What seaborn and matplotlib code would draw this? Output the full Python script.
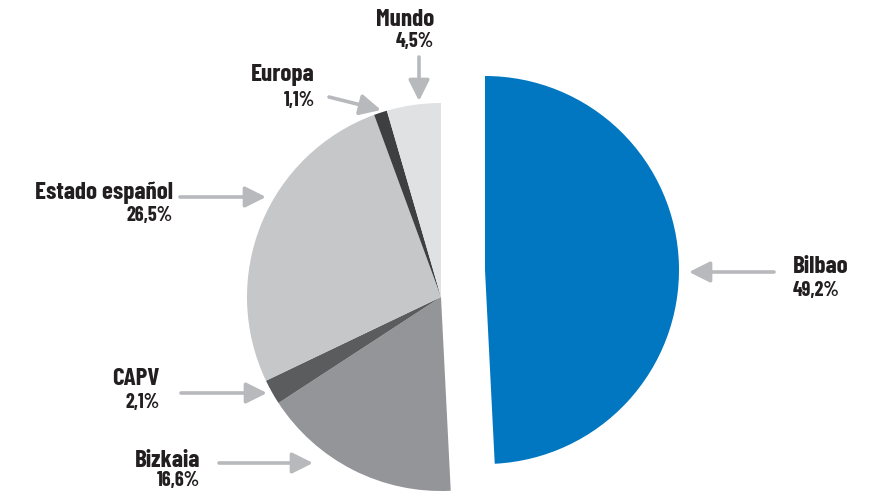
import matplotlib
matplotlib.use("Agg")
import matplotlib.pyplot as plt
import seaborn as sns

sns.set_theme(style="white")
plt.rcParams['font.family'] = ['Barlow Condensed', 'DejaVu Sans']

# data
regions = ['Bilbao', 'Bizkaia', 'CAPV', 'Estado español', 'Europa', 'Mundo']
shares = [49.2, 16.6, 2.1, 26.5, 1.1, 4.5]
pct_labels = ['49,2%', '16,6%', '2,1%', '26,5%', '1,1%', '4,5%']
colors = ['#0077c0', '#939598', '#5b5c5e', '#c6c7c9', '#3e3f41', '#e0e1e3']

W, H = 884, 491
fig = plt.figure(figsize=(W / 100, H / 100), dpi=100)
ax = fig.add_axes([0, 0, 1, 1])

# work in pixel units, y measured from the bottom
def py(y):
    return H - y

wedges, _ = ax.pie(shares, colors=colors, startangle=90, counterclock=False,
                   radius=194, center=(441, py(297)),
                   wedgeprops=dict(linewidth=0))
# Bilbao slice pulled out to the upper right
wedges[0].set_center((485, py(270)))

ax.set_xlim(0, W)
ax.set_ylim(0, H)
ax.set_aspect('auto')
ax.axis('off')

txt_col = '#231f20'
arrow_col = '#b8b9bc'

# label layout: (name x, name y, pct y, align, arrow start, arrow end)
layout = {
    'Bilbao':         (793, 267, 291, 'left',  (774, 272), (689, 272)),
    'Bizkaia':        (200, 461, 480, 'right', (219, 463), (313, 463)),
    'CAPV':           (160, 379, 403, 'right', (181, 393), (267, 393)),
    'Estado español': (173, 193, 215, 'right', (180, 197), (266, 197)),
    'Europa':         (315, 75, 100, 'right',  (329, 97), (381, 110)),
    'Mundo':          (434, 20, 41, 'right',   (419, 57), (419, 101)),
}

for name, pct in zip(regions, pct_labels):
    x, yn, yp, ha, a0, a1 = layout[name]
    ax.text(x, py(yn), name, ha=ha, va='center', fontsize=18,
            fontweight='bold', color=txt_col)
    ax.text(x, py(yp), pct, ha=ha, va='center', fontsize=14.5,
            fontweight='bold', color=txt_col)
    ax.annotate('', xy=(a1[0], py(a1[1])), xytext=(a0[0], py(a0[1])),
                arrowprops=dict(arrowstyle='-|>,head_length=0.9,head_width=0.45',
                                color=arrow_col, lw=2.6, shrinkA=0, shrinkB=0,
                                mutation_scale=14))

fig.savefig('out.png', dpi=100)
